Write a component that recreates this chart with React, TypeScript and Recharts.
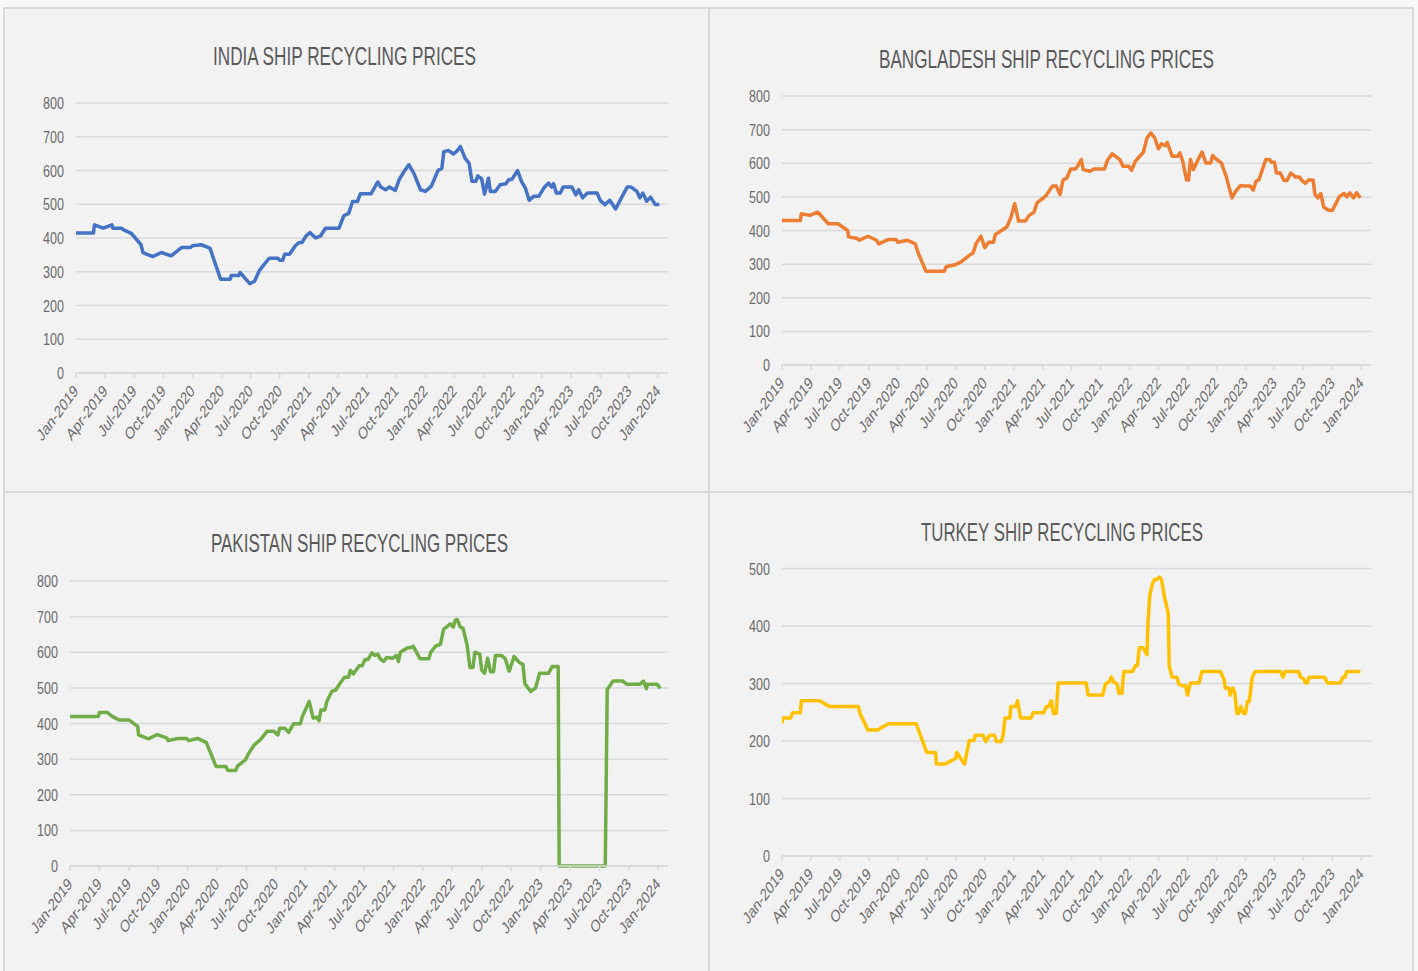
import React from "react";
import { LineChart, Line, XAxis, YAxis, CartesianGrid } from "recharts";

// ---- Axis labels (months since Jan-2019) ----

const quarterTicks = [0, 3, 6, 9, 12, 15, 18, 21, 24, 27, 30, 33, 36, 39, 42, 45, 48, 51, 54, 57, 60];
const quarterLabels = [
  "Jan-2019", "Apr-2019", "Jul-2019", "Oct-2019",
  "Jan-2020", "Apr-2020", "Jul-2020", "Oct-2020",
  "Jan-2021", "Apr-2021", "Jul-2021", "Oct-2021",
  "Jan-2022", "Apr-2022", "Jul-2022", "Oct-2022",
  "Jan-2023", "Apr-2023", "Jul-2023", "Oct-2023",
  "Jan-2024",
];
const ticks800 = [0, 100, 200, 300, 400, 500, 600, 700, 800];
const ticks500 = [0, 100, 200, 300, 400, 500];

// ---- India ----

const indiaMonths = [
  0, 1.8, 1.9, 2.8, 3.7, 3.8, 4.7, 4.9, 5.7, 6.7, 6.9, 7.9, 8.8, 9.8, 10.9, 11.8, 12, 12.9, 13.8, 14.9,
  15.9, 16, 16.8, 16.9, 17.9, 18.4, 18.9, 19.9, 20.8, 21, 21.3, 21.5, 22, 22.6, 23, 23.3, 23.7, 24.1, 24.7, 25.2,
  25.7, 27.1, 27.6, 28.1, 28.5, 29, 29.3, 30.4, 31.1, 31.4, 31.9, 32.3, 32.9, 33.3, 33.8, 34.3, 34.8, 35.5, 36, 36.6,
  36.9, 37.3, 37.7, 37.9, 38.4, 38.9, 39.3, 39.6, 40.1, 40.5, 40.8, 41.2, 41.4, 41.8, 42.1, 42.5, 42.7, 43.2, 43.7, 44.3,
  44.6, 44.9, 45.5, 45.9, 46.3, 46.7, 47.2, 47.7, 48.2, 48.7, 49, 49.2, 49.5, 49.9, 50.2, 51.1, 51.5, 51.8, 52.2, 52.7,
  53.7, 54, 54.5, 55, 55.6, 56.2, 56.8, 57.2, 57.8, 58.1, 58.4, 58.8, 59.2, 59.7, 60.1,
];
const indiaPrices = [
  415, 415, 439, 429, 439, 429, 429, 424, 414, 380, 357, 345, 357, 347, 372, 372, 377, 380, 370, 278,
  278, 289, 289, 298, 265, 272, 304, 340, 340, 334, 334, 352, 352, 377, 387, 387, 406, 416, 400, 406,
  429, 429, 466, 473, 508, 508, 531, 531, 566, 551, 543, 551, 541, 573, 597, 617, 592, 543, 538, 553,
  573, 600, 607, 656, 659, 649, 659, 671, 636, 622, 568, 568, 584, 575, 530, 577, 538, 538, 558, 561,
  573, 573, 600, 568, 548, 512, 524, 524, 548, 563, 551, 561, 533, 533, 551, 551, 528, 543, 519, 533,
  533, 512, 499, 512, 486, 519, 551, 551, 538, 519, 533, 509, 521, 499, 499,
];

// ---- Bangladesh ----

const bangladeshMonths = [
  0, 1.9, 2, 2.9, 3.7, 4.8, 5.8, 6.8, 6.9, 7.8, 8, 8.9, 9.8, 10, 11, 11.8, 12, 13, 13.8, 14.1,
  14.9, 16.8, 17, 18, 18.5, 19.4, 19.8, 20.1, 20.6, 21, 21.4, 21.9, 22.1, 23, 23.3, 23.7, 24.1, 24.5, 25.2, 25.6,
  26.1, 26.4, 27.3, 28, 28.4, 28.8, 29.1, 29.5, 29.9, 30.4, 30.6, 31, 31.2, 31.9, 32.3, 33.4, 33.7, 34.2, 35, 35.3,
  35.9, 36.2, 36.6, 37.1, 37.4, 37.8, 38.2, 38.6, 39, 39.3, 39.7, 39.9, 40.4, 41, 41.2, 41.5, 41.9, 42.1, 42.3, 42.6,
  43.1, 43.5, 43.9, 44.4, 44.6, 45, 45.5, 46, 46.6, 47, 47.5, 47.9, 48.5, 48.8, 49.1, 49.4, 50.1, 50.5, 50.7, 51,
  51.2, 51.6, 52, 52.3, 52.7, 53.2, 53.6, 53.8, 54.2, 54.5, 55, 55.2, 55.5, 55.8, 56.1, 56.6, 57, 57.4, 57.7, 58.2,
  58.5, 58.8, 59.2, 59.5, 59.9,
];
const bangladeshPrices = [
  430, 430, 450, 445, 455, 420, 420, 400, 381, 376, 371, 383, 371, 360, 373, 373, 365, 371, 360, 334,
  279, 279, 292, 299, 306, 326, 334, 361, 383, 349, 365, 365, 388, 405, 411, 438, 480, 428, 428, 445,
  454, 482, 502, 532, 532, 507, 550, 556, 583, 583, 591, 611, 581, 576, 583, 583, 609, 628, 611, 591,
  591, 579, 606, 623, 631, 675, 690, 675, 643, 658, 652, 662, 621, 621, 631, 606, 550, 550, 611, 581,
  611, 633, 601, 601, 623, 611, 601, 561, 497, 517, 534, 532, 532, 520, 547, 551, 611, 611, 603, 603,
  571, 571, 549, 549, 571, 559, 559, 550, 540, 550, 550, 507, 497, 510, 470, 460, 460, 482, 500, 510,
  500, 512, 497, 512, 497,
];

// ---- Pakistan ----

const pakistanMonths = [
  0, 2.9, 3, 3.8, 4.3, 5, 6, 6.9, 7, 8, 8.9, 9.9, 10, 11, 11.9, 12.1, 13, 13.9, 14.9, 15.9,
  16.1, 16.9, 17.1, 17.9, 18.2, 18.8, 19.4, 20.1, 20.8, 21.2, 21.4, 21.9, 22.3, 22.8, 23.5, 23.7, 24.4, 24.8, 25.2, 25.4,
  25.6, 26, 26.2, 26.7, 27.1, 27.5, 28, 28.4, 28.6, 28.9, 29.5, 29.8, 30.1, 30.4, 30.8, 31.1, 31.4, 31.6, 32, 32.3,
  32.9, 33.3, 33.5, 33.7, 34.4, 34.9, 35, 35.7, 36.6, 36.8, 37.3, 37.8, 38.1, 38.5, 38.8, 39.1, 39.3, 39.5, 39.8, 40.1,
  40.5, 40.8, 41.1, 41.3, 41.8, 42, 42.3, 42.6, 42.9, 43.2, 43.4, 44, 44.4, 44.8, 45.3, 45.8, 46.2, 46.4, 47, 47.5,
  47.9, 48.8, 49.2, 49.8, 49.9, 54.6, 54.8, 55, 55.4, 56.4, 56.8, 58.1, 58.5, 58.8, 58.9, 59.9, 60.2,
];
const pakistanPrices = [
  420, 420, 431, 431, 420, 410, 410, 392, 368, 357, 369, 359, 352, 358, 358, 352, 358, 347, 279, 279,
  268, 268, 281, 298, 315, 340, 354, 378, 378, 368, 387, 387, 375, 399, 399, 420, 462, 415, 418, 408,
  438, 438, 462, 490, 494, 511, 530, 530, 549, 539, 562, 562, 580, 580, 598, 591, 595, 583, 574, 585,
  583, 591, 574, 600, 612, 614, 617, 582, 582, 600, 617, 623, 664, 673, 680, 671, 690, 692, 671, 667,
  621, 557, 557, 600, 595, 550, 541, 583, 545, 545, 591, 591, 582, 547, 588, 572, 566, 512, 490, 500,
  541, 541, 560, 560, 0, 0, 496, 503, 519, 519, 510, 510, 519, 498, 510, 510, 498,
];

// ---- Turkey ----

const turkeyMonths = [
  0, 0.1, 0.9, 1.1, 1.9, 2, 3.9, 4.9, 7.9, 8.1, 8.9, 9.9, 11, 13.9, 15, 15.9, 16, 16.9, 18, 18.1,
  18.9, 19.4, 19.9, 20, 20.8, 21.1, 21.5, 22, 22.2, 22.7, 22.9, 23.1, 23.6, 23.7, 24.2, 24.4, 24.7, 25.8, 26, 27.1,
  27.4, 27.6, 27.9, 28.1, 28.4, 28.6, 31.5, 31.7, 33.2, 33.5, 33.9, 34.1, 34.4, 34.7, 34.9, 35.2, 35.4, 36.3, 36.6, 36.8,
  37, 37.4, 37.8, 37.9, 38.1, 38.4, 38.6, 38.8, 39.1, 39.3, 39.6, 40, 40.1, 40.4, 40.9, 41.1, 41.5, 41.8, 42, 42.3,
  43.2, 43.5, 45.4, 45.8, 45.9, 46.3, 46.4, 46.7, 46.9, 47.1, 47.3, 47.5, 47.8, 48, 48.2, 48.4, 48.7, 49, 51.6, 51.9,
  52.1, 53.5, 53.7, 54, 54.2, 54.4, 54.6, 56.2, 56.5, 57.8, 58.1, 58.3, 58.5, 59.9,
];
const turkeyPrices = [
  231, 240, 240, 249, 249, 270, 270, 260, 260, 247, 219, 219, 230, 230, 180, 180, 160, 160, 170, 180,
  160, 201, 201, 210, 210, 199, 210, 210, 199, 199, 210, 240, 240, 260, 260, 270, 240, 240, 249, 249,
  260, 260, 270, 248, 248, 301, 301, 280, 280, 299, 303, 311, 302, 299, 283, 283, 321, 321, 331, 331,
  362, 362, 350, 405, 455, 475, 481, 481, 485, 481, 452, 422, 330, 311, 311, 299, 296, 296, 280, 301,
  301, 321, 321, 306, 292, 292, 280, 292, 283, 248, 248, 260, 248, 248, 269, 269, 311, 321, 321, 311,
  321, 321, 311, 309, 301, 301, 311, 311, 301, 301, 311, 311, 321, 321,
];

// ---- Chart ----

// the reference text is squeezed horizontally, so glyphs get an x-scale
const FONT = "'Liberation Sans', Arial, sans-serif";
const SQUEEZE = 0.74;
const GRID = "#d9d9d9";
const TEXT = "#6b6b6b";

function QuarterTick({ x, y, payload }: any) {
  const label = quarterLabels[quarterTicks.indexOf(payload.value)];
  return (
    <text
      x={0}
      y={0}
      transform={`translate(${x + 3},${y + 12}) scale(${SQUEEZE},1) rotate(-45)`}
      textAnchor="end"
      fontSize={17}
      fontFamily={FONT}
      fill={TEXT}
    >
      {label}
    </text>
  );
}

function PriceTick({ x, y, payload }: any) {
  return (
    <text
      x={0}
      y={0}
      dy={6}
      transform={`translate(${x},${y}) scale(${SQUEEZE},1)`}
      textAnchor="end"
      fontSize={17}
      fontFamily={FONT}
      fill={TEXT}
    >
      {payload.value}
    </text>
  );
}

interface PanelProps {
  left: number;
  top: number;
  width: number;
  height: number;
  margin: { top: number; right: number; bottom: number; left: number };
  yWidth: number;
  yMax: number;
  yTicks: number[];
  months: number[];
  prices: number[];
  color: string;
}

function PriceChart(p: PanelProps) {
  const data = p.months.map((m, i) => ({ month: m, price: p.prices[i] }));
  return (
    <div style={{ position: "absolute", left: p.left, top: p.top }}>
      <LineChart width={p.width} height={p.height} data={data} margin={p.margin}>
        <CartesianGrid vertical={false} stroke={GRID} strokeWidth={1.5} />
        <XAxis
          type="number"
          dataKey="month"
          domain={[0, 61]}
          ticks={quarterTicks}
          interval={0}
          allowDataOverflow
          height={100}
          stroke={GRID}
          strokeWidth={1.5}
          tickSize={5}
          tick={<QuarterTick />}
        />
        <YAxis
          domain={[0, p.yMax]}
          ticks={p.yTicks}
          width={p.yWidth}
          axisLine={false}
          tickLine={false}
          tickSize={0}
          tickMargin={12}
          interval={0}
          tick={<PriceTick />}
        />
        <Line
          type="linear"
          dataKey="price"
          stroke={p.color}
          strokeWidth={3.5}
          strokeLinejoin="round"
          dot={false}
          isAnimationActive={false}
        />
      </LineChart>
    </div>
  );
}

const titles = [
  { text: "INDIA SHIP RECYCLING PRICES", cx: 344.5, y: 65, len: 263 },
  { text: "BANGLADESH SHIP RECYCLING PRICES", cx: 1046.5, y: 68, len: 335 },
  { text: "PAKISTAN SHIP RECYCLING PRICES", cx: 359.5, y: 552, len: 297 },
  { text: "TURKEY SHIP RECYCLING PRICES", cx: 1062, y: 541, len: 282 },
];

const panelBox: React.CSSProperties = {
  position: "absolute",
  boxSizing: "border-box",
  background: "#f2f2f2",
  border: `2px solid ${GRID}`,
};

export default function App() {
  return (
    <div style={{ position: "absolute", left: 0, top: 0, width: 1418, height: 971, background: "#f7f7f7", overflow: "hidden" }}>
      <div style={{ ...panelBox, left: 3, top: 7, width: 707, height: 486 }} />
      <div style={{ ...panelBox, left: 708, top: 7, width: 706, height: 486 }} />
      <div style={{ ...panelBox, left: 3, top: 491, width: 707, height: 490 }} />
      <div style={{ ...panelBox, left: 708, top: 491, width: 706, height: 490 }} />

      <PriceChart
        left={3} top={7} width={700} height={480}
        margin={{ top: 96, right: 35, bottom: 14, left: 0 }}
        yWidth={73} yMax={800} yTicks={ticks800}
        months={indiaMonths} prices={indiaPrices} color="#4472C4"
      />
      <PriceChart
        left={710} top={7} width={700} height={480}
        margin={{ top: 89, right: 39, bottom: 22, left: 0 }}
        yWidth={72} yMax={800} yTicks={ticks800}
        months={bangladeshMonths} prices={bangladeshPrices} color="#ED7D31"
      />
      <PriceChart
        left={3} top={492} width={700} height={479}
        margin={{ top: 89, right: 35, bottom: 5, left: 0 }}
        yWidth={67} yMax={800} yTicks={ticks800}
        months={pakistanMonths} prices={pakistanPrices} color="#70AD47"
      />
      <PriceChart
        left={710} top={492} width={700} height={479}
        margin={{ top: 76.5, right: 39, bottom: 15, left: 0 }}
        yWidth={72} yMax={500} yTicks={ticks500}
        months={turkeyMonths} prices={turkeyPrices} color="#FFC000"
      />

      <svg width={1418} height={971} style={{ position: "absolute", left: 0, top: 0, pointerEvents: "none" }}>
        {titles.map((t) => (
          <text
            key={t.text}
            x={t.cx}
            y={t.y}
            textAnchor="middle"
            textLength={t.len}
            lengthAdjust="spacingAndGlyphs"
            fontSize={26}
            fontFamily={FONT}
            fill="#595959"
          >
            {t.text}
          </text>
        ))}
      </svg>
    </div>
  );
}
